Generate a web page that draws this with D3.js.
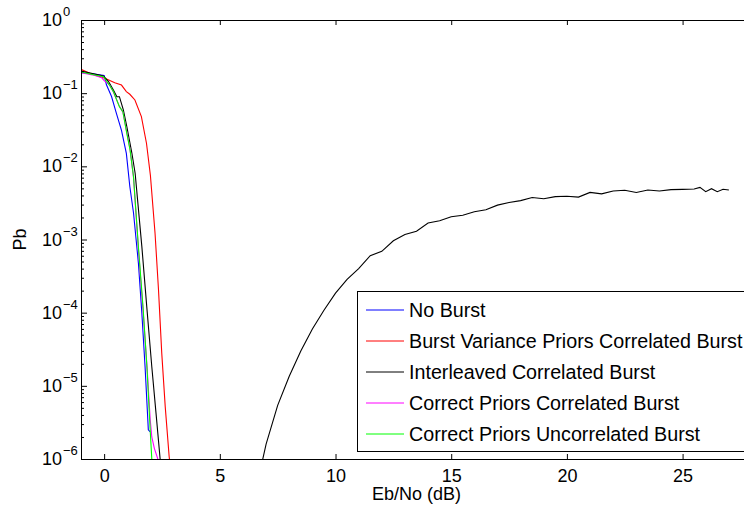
<!DOCTYPE html>
<html>
<head>
<meta charset="utf-8">
<script src="https://cdn.jsdelivr.net/npm/d3@7"></script>
<style>
body { margin: 0; background: #fff; }
text { font-family: "Liberation Sans", Arial, sans-serif; fill: #000; }
</style>
</head>
<body>
<div id="chart"></div>
<script>
//Data: Eb/No (dB) and bit error probability per series.
const ebnoNoBurst = [-1, -0.5, 0, 0.1, 0.32, 0.53, 0.75, 0.96, 1.11, 1.27, 1.48, 1.63, 1.77, 1.91, 1.99];
const pbNoBurst = [0.19, 0.184, 0.175, 0.13, 0.09, 0.053, 0.031, 0.015, 5.3e-3, 2.3e-3, 4.8e-4, 9.8e-5, 1.8e-5, 2.5e-6, 2.35e-6];

const ebnoBurstVar = [-1, -0.55, 0.03, 0.46, 0.75, 0.96, 1.11, 1.33, 1.61, 1.83, 2.0, 2.2, 2.35, 2.49, 2.64, 2.81, 2.9];
const pbBurstVar = [0.212, 0.183, 0.16, 0.139, 0.129, 0.105, 0.0966, 0.0807, 0.0478, 0.0207, 7.5e-3, 1.22e-3, 2.04e-4, 2.8e-5, 5.2e-6, 1.08e-6, 6e-7];

//The interleaved curve drops out (zero errors) between the two parts, so null marks the gap.
const ebnoInterleaved = [-1, -0.5, -0.03, 0.19, 0.40, 0.55, 0.66, 0.83, 0.98, 1.20, 1.34, 1.63, 1.84, 2.06, 2.24, 2.42, 2.5,
  4,
  6.7, 7.0, 7.5, 8.0, 8.5, 9.0, 9.5, 10.0, 10.5, 11.0, 11.5, 12.0, 12.5, 13.0, 13.5, 14.0, 14.5, 15.0, 15.5, 16.0, 16.5,
  17.0, 17.5, 18.0, 18.5, 19.0, 19.5, 20.0, 20.5, 21.0, 21.5, 22.0, 22.5, 23.0, 23.5, 24.0, 24.5, 25.0, 25.5, 25.75,
  26.0, 26.25, 26.5, 26.75, 27.0];
const pbInterleaved = [0.2, 0.185, 0.172, 0.144, 0.11, 0.0895, 0.0895, 0.059, 0.0349, 0.0151, 8.05e-3, 8.0e-4, 1.23e-4, 1.82e-5, 4.3e-6, 1.0e-6, 7e-7,
  null,
  6e-7, 1.6e-6, 5.4e-6, 1.35e-5, 3.0e-5, 6.0e-5, 1.08e-4, 1.85e-4, 2.85e-4, 4.0e-4, 6.0e-4, 6.9e-4, 9.6e-4, 1.17e-3, 1.3e-3, 1.68e-3, 1.8e-3, 2.05e-3, 2.15e-3, 2.4e-3, 2.55e-3,
  2.95e-3, 3.2e-3, 3.4e-3, 3.75e-3, 3.6e-3, 3.85e-3, 3.9e-3, 3.8e-3, 4.4e-3, 4.2e-3, 4.6e-3, 4.7e-3, 4.4e-3, 4.75e-3, 4.6e-3, 4.8e-3, 4.85e-3, 4.9e-3, 5.15e-3,
  4.5e-3, 4.95e-3, 4.5e-3, 4.85e-3, 4.75e-3];

const ebnoCorrCorr = [-1, -0.5, -0.1, 0, 0.23, 0.40, 0.66, 0.81, 0.98, 1.12, 1.27, 1.48, 1.68, 1.86, 1.99, 2.06, 2.17, 2.32, 2.4];
const pbCorrCorr = [0.19, 0.178, 0.162, 0.148, 0.13, 0.104, 0.066, 0.055, 0.029, 0.017, 7.0e-3, 7.5e-4, 1.1e-4, 1.7e-5, 3.5e-6, 2.0e-6, 1.4e-6, 1.0e-6, 8e-7];

const ebnoCorrUncorr = [-1, -0.5, -0.03, 0.23, 0.40, 0.66, 0.81, 0.98, 1.12, 1.27, 1.48, 1.68, 1.85, 1.99, 2.06, 2.1];
const pbCorrUncorr = [0.195, 0.18, 0.168, 0.129, 0.105, 0.0654, 0.0559, 0.0283, 0.0168, 7.2e-3, 8.0e-4, 1.2e-4, 1.8e-5, 2.5e-6, 1.0e-6, 7e-7];

const seriesNames = ["No Burst", "Burst Variance Priors Correlated Burst", "Interleaved Correlated Burst",
  "Correct Priors Correlated Burst", "Correct Priors Uncorrelated Burst"];
const seriesColors = ["#0000ff", "#ff0000", "#000000", "#ff00ff", "#00ff00"];

const xTicks = [0, 5, 10, 15, 20, 25];
const yExponents = [0, -1, -2, -3, -4, -5, -6];

//Build the series table from the arrays.
const allX = [ebnoNoBurst, ebnoBurstVar, ebnoInterleaved, ebnoCorrCorr, ebnoCorrUncorr];
const allY = [pbNoBurst, pbBurstVar, pbInterleaved, pbCorrCorr, pbCorrUncorr];
const series = seriesNames.map((name, i) => ({
  name: name,
  color: seriesColors[i],
  values: allX[i].map((x, j) => ({ ebno: x, pb: allY[i][j] }))
}));

//Set up the dimensions of the svg container.
const width = 744;
const height = 509;
const plot = { left: 81, top: 20, right: 752, bottom: 459 };

const svg = d3.select("#chart")
  .append("svg")
  .attr("width", width)
  .attr("height", height);

//Scales.
const xScale = d3.scaleLinear()
  .domain([-1, 28])
  .range([plot.left, plot.right]);

const yScale = d3.scaleLog()
  .domain([1e-6, 1])
  .range([plot.bottom, plot.top]);

//Minor ticks for the log axis.
const minorTicks = [];
yExponents.slice(1).forEach(e => {
  for (let m = 2; m <= 9; m++) minorTicks.push(m * Math.pow(10, e));
});
const majorTicks = yExponents.map(e => Math.pow(10, e));

//Clip the curves to the axes box.
svg.append("clipPath")
  .attr("id", "clip")
  .append("rect")
  .attr("x", plot.left)
  .attr("y", plot.top)
  .attr("width", plot.right - plot.left)
  .attr("height", plot.bottom - plot.top);

//Draw the curves.
const line = d3.line()
  .defined(d => d.pb != null)
  .x(d => xScale(d.ebno))
  .y(d => yScale(d.pb));

svg.append("g")
  .attr("clip-path", "url(#clip)")
  .selectAll("path")
  .data(series)
  .enter()
  .append("path")
  .attr("fill", "none")
  .attr("stroke", d => d.color)
  .attr("stroke-width", 1.1)
  .attr("d", d => line(d.values));

//Axes, ticks pointing inward like the reference.
const xAxisBottom = svg.append("g")
  .attr("transform", `translate(0,${plot.bottom})`)
  .call(d3.axisBottom(xScale).tickValues(xTicks).tickFormat(d3.format("d"))
    .tickSizeInner(-5).tickSizeOuter(0).tickPadding(10));

svg.append("g")
  .attr("transform", `translate(0,${plot.top})`)
  .call(d3.axisTop(xScale).tickValues(xTicks).tickFormat("")
    .tickSizeInner(-5).tickSizeOuter(0));

svg.append("g")
  .attr("transform", `translate(${plot.left},0)`)
  .call(d3.axisLeft(yScale).tickValues(majorTicks).tickFormat("")
    .tickSizeInner(-6).tickSizeOuter(0));

svg.append("g")
  .attr("transform", `translate(${plot.left},0)`)
  .call(d3.axisLeft(yScale).tickValues(minorTicks).tickFormat("")
    .tickSizeInner(-3).tickSizeOuter(0));

svg.append("g")
  .attr("transform", `translate(${plot.right},0)`)
  .call(d3.axisRight(yScale).tickValues(majorTicks).tickFormat("")
    .tickSizeInner(-6).tickSizeOuter(0));

svg.selectAll(".domain").attr("stroke", "#000");
svg.selectAll(".tick line").attr("stroke", "#000");
xAxisBottom.selectAll("text")
  .attr("font-size", "18px")
  .attr("font-family", "Liberation Sans, Arial, sans-serif")
  .attr("fill", "#000");

//Power of ten tick labels on the y axis.
const yLabels = svg.append("g");
yExponents.forEach(e => {
  const y = yScale(Math.pow(10, e));
  yLabels.append("text")
    .attr("x", 62)
    .attr("y", y + 6)
    .attr("text-anchor", "end")
    .attr("font-size", "18px")
    .text("10");
  yLabels.append("text")
    .attr("x", 63)
    .attr("y", y - 4)
    .attr("font-size", "13px")
    .text(e === 0 ? "0" : "\u2212" + Math.abs(e));
});

//Axis titles.
svg.append("text")
  .attr("x", (plot.left + plot.right) / 2)
  .attr("y", 500)
  .attr("text-anchor", "middle")
  .attr("font-size", "18px")
  .text("Eb/No (dB)");

svg.append("text")
  .attr("transform", `translate(26,${(plot.top + plot.bottom) / 2}) rotate(-90)`)
  .attr("text-anchor", "middle")
  .attr("font-size", "18px")
  .text("Pb");

//Legend box.
const legend = svg.append("g");
legend.append("rect")
  .attr("x", 357.5)
  .attr("y", 291.5)
  .attr("width", 394)
  .attr("height", 160)
  .attr("fill", "#fff")
  .attr("stroke", "#000")
  .attr("stroke-width", 1);

const rows = legend.selectAll("g.row")
  .data(series)
  .enter()
  .append("g")
  .attr("class", "row")
  .attr("transform", (d, i) => `translate(0,${310 + i * 31})`);

rows.append("line")
  .attr("x1", 366)
  .attr("x2", 404)
  .attr("stroke", d => d.color)
  .attr("stroke-width", 1);

rows.append("text")
  .attr("x", 409)
  .attr("y", 7)
  .attr("font-size", "19.7px")
  .text(d => d.name);
</script>
</body>
</html>
